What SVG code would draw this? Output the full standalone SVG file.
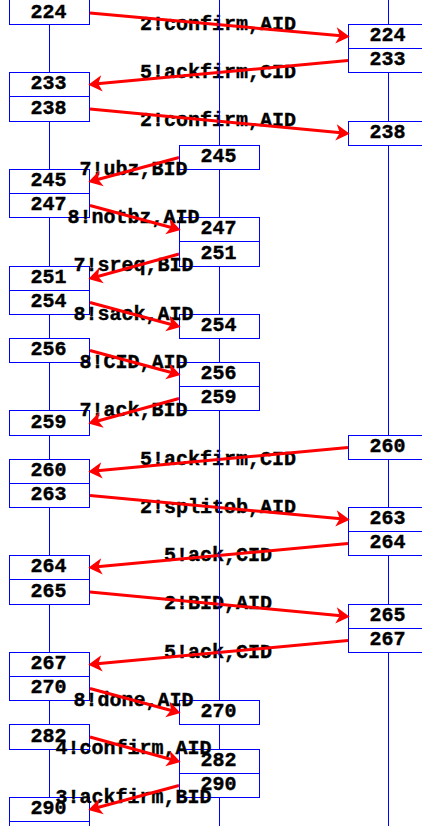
<svg xmlns="http://www.w3.org/2000/svg" width="422" height="826" viewBox="0 0 422 826">
<style>
.box{fill:#fff;stroke:#0000ff;stroke-width:1}
.div{stroke:#0000ff;stroke-width:1}
.t{font-family:"Liberation Mono","Courier New",monospace;font-weight:bold;font-size:20px;text-anchor:middle;fill:#000;stroke:#000;stroke-width:0.4}
.arr{stroke:#ff0000;stroke-width:3;fill:none;marker-end:url(#ah)}
.life{stroke:#0000ff;stroke-width:1;fill:none}
</style>
<defs>
<marker id="ah" markerUnits="userSpaceOnUse" orient="auto" refX="0" refY="0" markerWidth="20" markerHeight="20" viewBox="-6 -8 16 16" overflow="visible">
<path d="M7,0 L-4,-6.5 L-1,0 L-4,6.5 Z" fill="#ff0000"/>
</marker>
</defs>
<rect width="422" height="826" fill="#fff"/>
<g id="nodes">
<g id="L224"><rect class="box" x="9.5" y="-1" width="80" height="25.5"/><text class="t" x="48.5" y="17.5">224</text></g>
<g id="L233"><rect class="box" x="9.5" y="72.5" width="80" height="49"/><line class="div" x1="9.5" y1="96.5" x2="89.5" y2="96.5"/><text class="t" x="48.5" y="89">233</text><text class="t" x="48.5" y="113.5">238</text></g>
<g id="L245"><rect class="box" x="9.5" y="169.5" width="80" height="48"/><line class="div" x1="9.5" y1="193.5" x2="89.5" y2="193.5"/><text class="t" x="48.5" y="186">245</text><text class="t" x="48.5" y="210">247</text></g>
<g id="L251"><rect class="box" x="9.5" y="266.5" width="80" height="48"/><line class="div" x1="9.5" y1="290.5" x2="89.5" y2="290.5"/><text class="t" x="48.5" y="283">251</text><text class="t" x="48.5" y="307">254</text></g>
<g id="L256"><rect class="box" x="9.5" y="338.5" width="80" height="24"/><text class="t" x="48.5" y="355">256</text></g>
<g id="L259"><rect class="box" x="9.5" y="410.5" width="80" height="25"/><text class="t" x="48.5" y="427.5">259</text></g>
<g id="L260"><rect class="box" x="9.5" y="459.5" width="80" height="48"/><line class="div" x1="9.5" y1="483.5" x2="89.5" y2="483.5"/><text class="t" x="48.5" y="476">260</text><text class="t" x="48.5" y="500">263</text></g>
<g id="L264"><rect class="box" x="9.5" y="555.5" width="80" height="49"/><line class="div" x1="9.5" y1="579.5" x2="89.5" y2="579.5"/><text class="t" x="48.5" y="572">264</text><text class="t" x="48.5" y="596.5">265</text></g>
<g id="L267"><rect class="box" x="9.5" y="652.5" width="80" height="48"/><line class="div" x1="9.5" y1="676.5" x2="89.5" y2="676.5"/><text class="t" x="48.5" y="669">267</text><text class="t" x="48.5" y="693">270</text></g>
<g id="L282"><rect class="box" x="9.5" y="724.5" width="80" height="25"/><text class="t" x="48.5" y="741.5">282</text></g>
<g id="L290"><rect class="box" x="9.5" y="797.5" width="80" height="72.5"/><line class="div" x1="9.5" y1="821.5" x2="89.5" y2="821.5"/><text class="t" x="48.5" y="814">290</text></g>
<g id="M245"><rect class="box" x="179.5" y="145.5" width="80" height="24"/><text class="t" x="218.5" y="162">245</text></g>
<g id="M247"><rect class="box" x="179.5" y="217.5" width="80" height="49"/><line class="div" x1="179.5" y1="241.5" x2="259.5" y2="241.5"/><text class="t" x="218.5" y="234">247</text><text class="t" x="218.5" y="258.5">251</text></g>
<g id="M254"><rect class="box" x="179.5" y="314.5" width="80" height="24"/><text class="t" x="218.5" y="331">254</text></g>
<g id="M256"><rect class="box" x="179.5" y="362.5" width="80" height="48"/><line class="div" x1="179.5" y1="386.5" x2="259.5" y2="386.5"/><text class="t" x="218.5" y="379">256</text><text class="t" x="218.5" y="403">259</text></g>
<g id="M270"><rect class="box" x="179.5" y="700.5" width="80" height="24"/><text class="t" x="218.5" y="717">270</text></g>
<g id="M282"><rect class="box" x="179.5" y="749.5" width="80" height="48"/><line class="div" x1="179.5" y1="773.5" x2="259.5" y2="773.5"/><text class="t" x="218.5" y="766">282</text><text class="t" x="218.5" y="790">290</text></g>
<g id="R224"><rect class="box" x="348.5" y="24.5" width="80" height="48"/><line class="div" x1="348.5" y1="48.5" x2="428.5" y2="48.5"/><text class="t" x="387.5" y="41">224</text><text class="t" x="387.5" y="65">233</text></g>
<g id="R238"><rect class="box" x="348.5" y="121.5" width="80" height="24"/><text class="t" x="387.5" y="138">238</text></g>
<g id="R260"><rect class="box" x="348.5" y="435.5" width="80" height="24"/><text class="t" x="387.5" y="452">260</text></g>
<g id="R263"><rect class="box" x="348.5" y="507.5" width="80" height="48"/><line class="div" x1="348.5" y1="531.5" x2="428.5" y2="531.5"/><text class="t" x="387.5" y="524">263</text><text class="t" x="387.5" y="548">264</text></g>
<g id="R265"><rect class="box" x="348.5" y="604.5" width="80" height="48"/><line class="div" x1="348.5" y1="628.5" x2="428.5" y2="628.5"/><text class="t" x="387.5" y="621">265</text><text class="t" x="387.5" y="645">267</text></g>
</g>
<g id="labels">
<text class="t" x="218" y="29.5">2!confirm,AID</text>
<text class="t" x="218" y="77.5">5!ackfirm,CID</text>
<text class="t" x="218" y="126">2!confirm,AID</text>
<text class="t" x="133.5" y="174.5">7!ubz,BID</text>
<text class="t" x="133.5" y="222.5">8!notbz,AID</text>
<text class="t" x="133.5" y="271">7!sreq,BID</text>
<text class="t" x="133.5" y="319.5">8!sack,AID</text>
<text class="t" x="133.5" y="367.5">8!CID,AID</text>
<text class="t" x="133.5" y="415.5">7!ack,BID</text>
<text class="t" x="218" y="464.5">5!ackfirm,CID</text>
<text class="t" x="218" y="512.5">2!splitob,AID</text>
<text class="t" x="218" y="560.5">5!ack,CID</text>
<text class="t" x="218" y="609">2!BID,AID</text>
<text class="t" x="218" y="657.5">5!ack,CID</text>
<text class="t" x="133.5" y="705.5">8!done,AID</text>
<text class="t" x="133.5" y="754">4!confirm,AID</text>
<text class="t" x="133.5" y="802.5">3!ackfirm,BID</text>
</g>
<g id="connectors">
<path class="arr" d="M90,13 L341,35.85"/>
<path class="arr" d="M348,60.5 L97,83.85"/>
<path class="arr" d="M90,109 L341,132.85"/>
<path class="arr" d="M179,157.5 L96.76,179.68"/>
<path class="arr" d="M90,205.5 L172.24,227.68"/>
<path class="arr" d="M179,254 L96.76,276.68"/>
<path class="arr" d="M90,302.5 L172.24,324.68"/>
<path class="arr" d="M90,350.5 L172.24,372.68"/>
<path class="arr" d="M179,398.5 L96.76,421.18"/>
<path class="arr" d="M348,447.5 L97,470.85"/>
<path class="arr" d="M90,495.5 L341,518.85"/>
<path class="arr" d="M348,543.5 L97,566.85"/>
<path class="arr" d="M90,592 L341,615.85"/>
<path class="arr" d="M348,640.5 L97,663.85"/>
<path class="arr" d="M90,688.5 L172.24,710.68"/>
<path class="arr" d="M90,737 L172.24,759.68"/>
<path class="arr" d="M179,785.5 L96.76,807.68"/>
</g>
<g id="lifelines">
<path class="life" d="M49.5,24.5V72.5M49.5,121.5V169.5M49.5,217.5V266.5M49.5,314.5V338.5M49.5,362.5V410.5M49.5,435.5V459.5M49.5,507.5V555.5M49.5,604.5V652.5M49.5,700.5V724.5M49.5,749.5V797.5"/>
<path class="life" d="M219.5,0V145.5M219.5,169.5V217.5M219.5,266.5V314.5M219.5,338.5V362.5M219.5,410.5V700.5M219.5,724.5V749.5M219.5,797.5V826"/>
<path class="life" d="M388.5,0V24.5M388.5,72.5V121.5M388.5,145.5V435.5M388.5,459.5V507.5M388.5,555.5V604.5M388.5,652.5V826"/>
</g>
</svg>
